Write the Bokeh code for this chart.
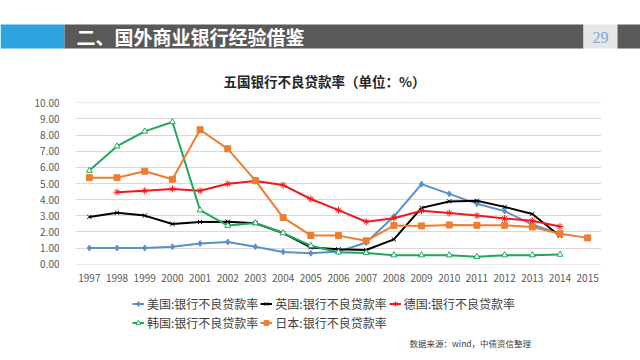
from bokeh.plotting import figure
from bokeh.models import (Range1d, FactorRange, Legend, LegendItem, Label,
                          FixedTicker, NumeralTickFormatter, ColumnDataSource)
from bokeh.layouts import column
from bokeh.embed import file_html
from bokeh.resources import INLINE
from bokeh.core.properties import value

nan = float("nan")
years = [str(y) for y in range(1997, 2016)]
us = [1.00, 1.00, 1.00, 1.08, 1.28, 1.38, 1.08, 0.76, 0.68, 0.78, 1.34, 2.95, 4.96, 4.36, 3.75, 3.29, 2.45, 1.89, nan]
uk = [2.93, 3.19, 3.01, 2.49, 2.61, 2.63, 2.53, 1.93, 1.04, 0.92, 0.88, 1.54, 3.49, 3.89, 3.93, 3.55, 3.11, 1.75, nan]
de = [nan, 4.46, 4.55, 4.66, 4.55, 4.98, 5.16, 4.90, 4.04, 3.35, 2.63, 2.85, 3.31, 3.17, 3.01, 2.83, 2.69, 2.33, nan]
kr = [5.80, 7.31, 8.23, 8.81, 3.35, 2.39, 2.55, 1.93, 1.14, 0.74, 0.70, 0.56, 0.56, 0.56, 0.46, 0.56, 0.56, 0.60, nan]
jp = [5.36, 5.36, 5.76, 5.26, 8.33, 7.15, 5.18, 2.89, 1.78, 1.77, 1.45, 2.39, 2.37, 2.43, 2.41, 2.41, 2.31, 1.89, 1.63]
series_names = ["美国:银行不良贷款率", "英国:银行不良贷款率", "德国:银行不良贷款率",
                "韩国:银行不良贷款率", "日本:银行不良贷款率"]
y_ticks = [0, 1, 2, 3, 4, 5, 6, 7, 8, 9, 10]

header_text = "二、国外商业银行经验借鉴"
page_no = "29"
chart_title = "五国银行不良贷款率（单位：%）"
source_text = "数据来源：wind，中债资信整理"

FONT = "Noto Sans CJK SC"
W = 640


def bare(fig):
    fig.grid.visible = False
    fig.outline_line_color = None
    return fig


# ---------------- header band ----------------
hdr = bare(figure(width=W, height=56, x_range=Range1d(0, W), y_range=Range1d(0, 56),
                  output_backend="svg", toolbar_location=None, min_border=0,
                  x_axis_location=None, y_axis_location=None, frame_align=False))
hdr.quad(left=[0, 64, 583, 617], right=[64, 583, 617, W], bottom=8, top=32,
         fill_color=["#2BA3DE", "#595959", "#E7E6E6", "#595959"], line_color=None)
hdr.text(x=[76], y=[20.5], text=[header_text], text_color="white",
         text_font=value(FONT), text_font_style="bold", text_font_size="19px",
         text_baseline="middle", text_align="left")
hdr.text(x=[600], y=[19.5], text=[page_no], text_color="#7DAAD9",
         text_font=value("Liberation Serif"), text_font_size="16px",
         text_baseline="middle", text_align="center")

# ---------------- main chart ----------------
p = figure(width=W, height=228, x_range=FactorRange(*years), y_range=Range1d(-0.02, 10.02),
           output_backend="svg", toolbar_location=None, frame_align=False,
           min_border_left=75, min_border_right=39, min_border_top=46, min_border_bottom=17)
p.outline_line_color = None
p.xgrid.grid_line_color = None
p.ygrid.grid_line_color = "#D9D9D9"
p.ygrid.ticker = FixedTicker(ticks=y_ticks)

p.yaxis.ticker = FixedTicker(ticks=y_ticks)
p.yaxis.formatter = NumeralTickFormatter(format="0.00")
for ax in (p.xaxis[0], p.yaxis[0]):
    ax.axis_line_color = None
    ax.major_tick_line_color = None
    ax.minor_tick_line_color = None
    ax.major_label_text_font = FONT
    ax.major_label_text_font_size = "10px"
    ax.major_label_text_color = "#595959"
p.yaxis.major_label_standoff = 10
p.xaxis.major_label_standoff = 3

p.title.text = chart_title
p.title.align = "left"
p.title.offset = 148
p.title.standoff = 24
p.title.text_font = FONT
p.title.text_font_size = "13.5px"
p.title.text_font_style = "bold"
p.title.text_color = "#262626"

styles = [
    ("#5B8FC9", "diamond", 6, "#5B8FC9"),
    ("#000000", "x", 6, "#000000"),
    ("#F01A1A", "asterisk", 7, "#F01A1A"),
    ("#1FA85A", "triangle", 6, "white"),
    ("#ED7D31", "square", 6, "#ED7D31"),
]
data = [us, uk, de, kr, jp]
for vals, (col, mk, sz, fc) in zip(data, styles):
    src = ColumnDataSource(dict(x=years, y=vals))
    p.line("x", "y", source=src, line_color=col, line_width=2)
    p.scatter("x", "y", source=src, marker=mk, size=sz, line_color=col,
              fill_color=fc, line_width=1)

# ---------------- legend + source strip ----------------
lf = bare(figure(width=W, height=76, x_range=Range1d(0, W), y_range=Range1d(0, 76),
                 output_backend="svg", toolbar_location=None, min_border=0,
                 x_axis_location=None, y_axis_location=None, frame_align=False))
items = []
for name, (col, mk, sz, fc) in zip(series_names, styles):
    # legend keys only: one point kept outside the visible range
    ln = lf.line(x=[-100, -90], y=[-100, -100], line_color=col, line_width=2)
    sc = lf.scatter(x=[-100], y=[-100], marker=mk, size=sz, line_color=col,
                    fill_color=fc, line_width=1)
    items.append(LegendItem(label=name, renderers=[ln, sc]))

leg = Legend(items=items, location=(132, 29.5), orientation="horizontal", ncols=3,
             glyph_width=12, glyph_height=17, label_height=17, label_standoff=3,
             spacing=2, padding=0, margin=0,
             label_text_font=FONT, label_text_font_size="12px",
             label_text_color="#404040",
             background_fill_alpha=0, border_line_alpha=0)
lf.add_layout(leg)
lf.add_layout(Label(x=409, y=18, text=source_text, text_font=FONT, text_font_size="8.5px",
                    text_color="#404040", text_baseline="middle"))

layout = column(hdr, p, lf, spacing=0)
open("out.html", "w").write(file_html(layout, INLINE))
